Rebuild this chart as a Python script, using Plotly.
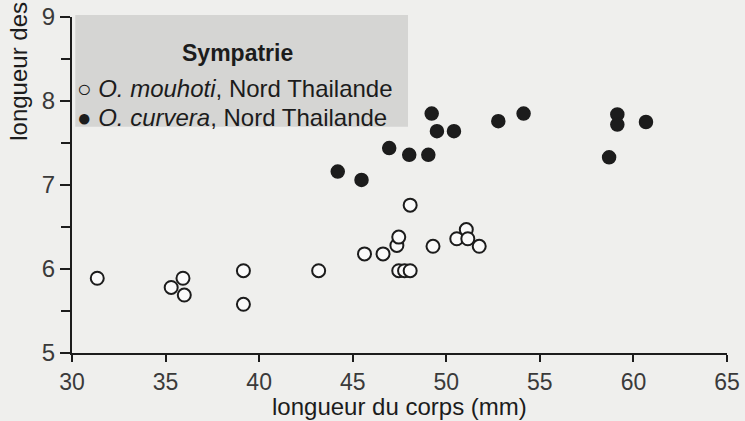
import plotly.graph_objects as go

# O. mouhoti (open circles), Nord Thailande
mouhoti_corps = [31.35, 35.3, 35.93, 36.0, 39.16, 39.16, 43.18, 45.63, 46.62, 47.36,
                 47.46, 47.46, 47.77, 48.07, 48.07, 49.29, 50.56, 51.07, 51.15, 51.76]
mouhoti_long = [5.89, 5.78, 5.89, 5.69, 5.98, 5.58, 5.98, 6.18, 6.18, 6.28,
                6.38, 5.98, 5.98, 5.98, 6.76, 6.27, 6.36, 6.47, 6.36, 6.27]

# O. curvera (filled circles), Nord Thailande
curvera_corps = [44.2, 45.47, 46.95, 48.02, 49.04, 49.22, 49.5, 50.41, 52.78, 54.13,
                 58.7, 59.14, 59.14, 60.67]
curvera_long = [7.16, 7.06, 7.44, 7.36, 7.36, 7.85, 7.64, 7.64, 7.76, 7.85,
                7.33, 7.84, 7.72, 7.75]

x_ticks = [30, 35, 40, 45, 50, 55, 60, 65]
y_ticks = [5, 6, 7, 8, 9]

ink = "#1c1c1c"
bg = "#efefed"
font = "Liberation Sans, Arial, sans-serif"

fig = go.Figure()
fig.add_trace(go.Scatter(
    x=mouhoti_corps, y=mouhoti_long, mode="markers", name="O. mouhoti",
    marker={"size": 13, "color": "#fafafa", "line": {"width": 2, "color": ink}},
    cliponaxis=False,
))
fig.add_trace(go.Scatter(
    x=curvera_corps, y=curvera_long, mode="markers", name="O. curvera",
    marker={"size": 13, "color": ink, "line": {"width": 1.5, "color": ink}},
    cliponaxis=False,
))

# legend box drawn by hand so it sits tight against the y axis
fig.add_shape(type="rect", xref="paper", yref="paper", x0=0.005, x1=0.513,
              y0=0.673, y1=1.006, fillcolor="#d5d5d3", line={"width": 0}, layer="below")
fig.add_annotation(text="<b>Sympatrie</b>", xref="paper", yref="paper",
                   x=0.252, y=0.9375, xanchor="center", showarrow=False,
                   font={"size": 23, "color": ink, "family": font})
fig.add_annotation(text="○ <i>O. mouhoti</i>, Nord Thailande", xref="paper", yref="paper",
                   x=0.004, y=0.833, xanchor="left", showarrow=False,
                   font={"size": 24, "color": ink, "family": font})
fig.add_annotation(text="● <i>O. curvera</i>, Nord Thailande", xref="paper", yref="paper",
                   x=0.004, y=0.747, xanchor="left", showarrow=False,
                   font={"size": 24, "color": ink, "family": font})

# y title is cut off at the top in the source
fig.add_annotation(text="longueur des", xref="paper", yref="paper",
                   x=-0.082, y=0.625, xanchor="center", yanchor="bottom",
                   textangle=-90, showarrow=False,
                   font={"size": 24, "color": ink, "family": font})

# x title placed by hand, just under the tick labels
fig.add_annotation(text="longueur du corps (mm)", xref="paper", yref="paper",
                   x=0.5, y=-0.158, xanchor="center", yanchor="middle",
                   showarrow=False, font={"size": 24, "color": ink, "family": font})

fig.update_layout(
    width=745, height=421,
    margin={"l": 72, "r": 18, "t": 17, "b": 68},
    paper_bgcolor=bg, plot_bgcolor=bg,
    showlegend=False,
    font={"family": font, "color": ink},
)
fig.update_xaxes(
    range=[30, 65], tickvals=x_ticks, ticks="outside", ticklen=7, tickwidth=1.5,
    tickcolor=ink, showline=True, linecolor=ink, linewidth=2, showgrid=False,
    zeroline=False, automargin=False,
    tickfont={"size": 23, "color": "#3a3a3a"},
)
fig.update_yaxes(
    range=[5, 9], tickvals=y_ticks, ticks="outside", ticklen=10, tickwidth=1.5,
    tickcolor=ink, showline=True, linecolor=ink, linewidth=2, showgrid=False,
    zeroline=False, automargin=False, tickfont={"size": 24, "color": "#3a3a3a"},
    minor={"dtick": 0.5, "ticks": "outside", "ticklen": 9, "tickcolor": ink,
           "showgrid": False},
)

fig.write_html("out.html", config={"displayModeBar": False},
               post_script="document.body.style.margin = '0';")
